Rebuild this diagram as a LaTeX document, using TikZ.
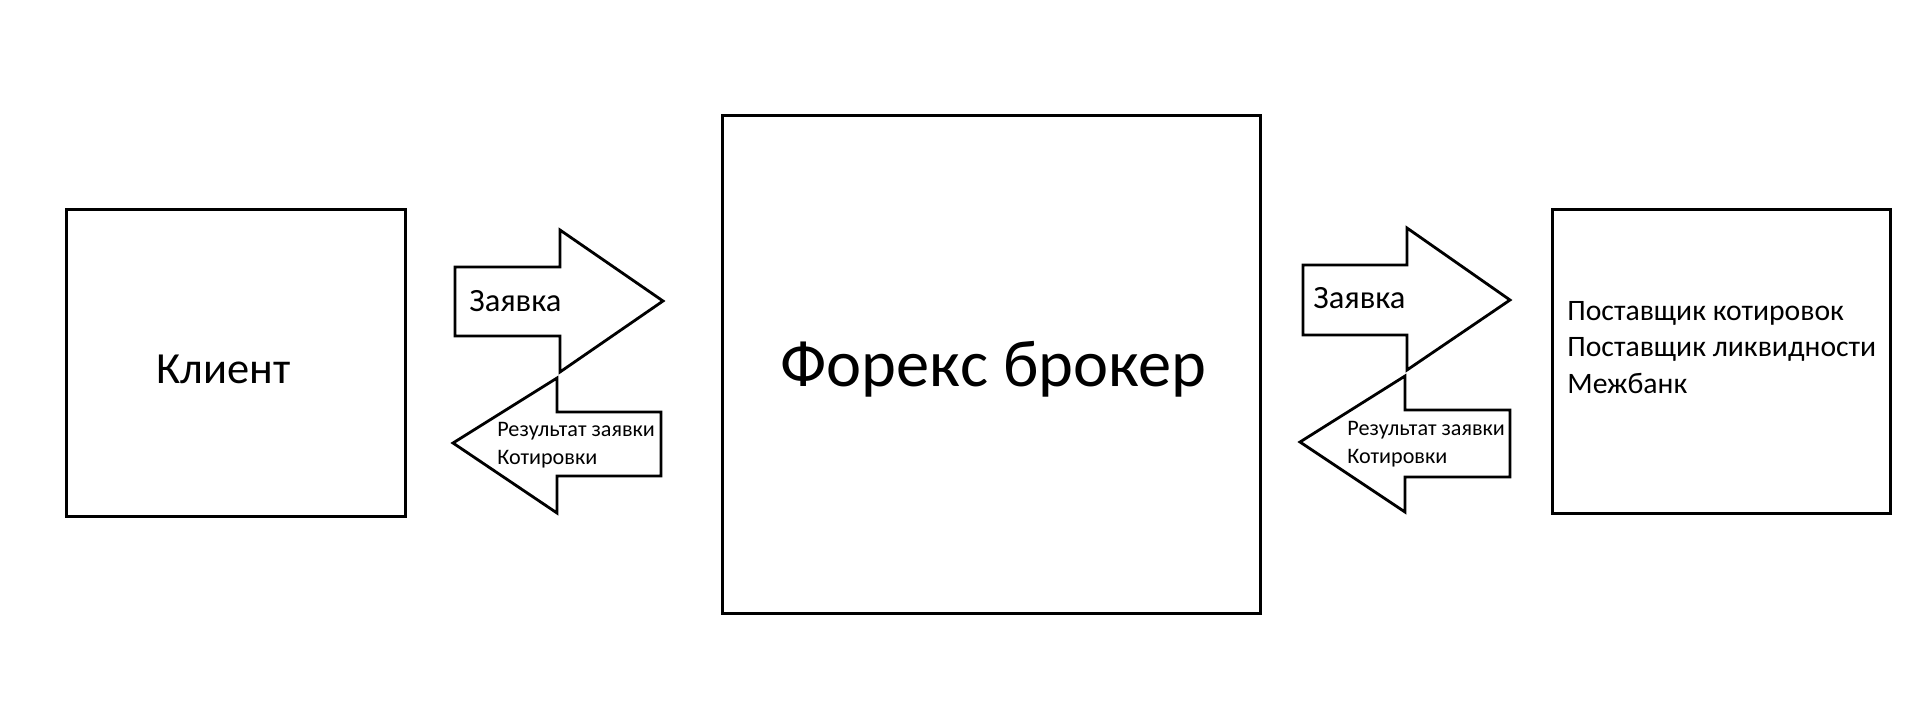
\documentclass[tikz,border=0pt]{standalone}
\usepackage{fontspec}
\setmainfont{Carlito}

\begin{document}
\begin{tikzpicture}[x=0.02cm, y=-0.02cm,
    box/.style={draw=black, line width=1.7pt, inner sep=0pt},
    blockarrow/.style={draw=black, line width=1.6pt, line join=miter},
    lbl/.style={inner sep=0pt, anchor=base west, align=left}]
    \useasboundingbox (0,0) rectangle (1920,727);

    %Boxes
    \node[box, minimum width=6.8cm, minimum height=6.16cm] at (236,363) (client) {};
    \node[box, minimum width=10.78cm, minimum height=9.98cm] at (991.5,364.5) (broker) {};
    \node[box, minimum width=6.78cm, minimum height=6.1cm] at (1721.5,361.5) (provider) {};

    %Box texts
    \node[inner sep=0pt, anchor=base, font=\fontsize{25.3pt}{30pt}\selectfont] at (223.5,383) (clienttext) {Клиент};
    \node[inner sep=0pt, anchor=base, font=\fontsize{37.8pt}{44pt}\selectfont] at (993.5,386) (brokertext) {Форекс брокер};
    % base of a multi-line node is its last line
    \node[lbl, font=\fontsize{16.9pt}{20.5pt}\selectfont] at (1567,393) (providertext)
        {Поставщик котировок\\Поставщик ликвидности\\Межбанк};

    %Arrows
    \draw[blockarrow] (455,267) -- (560,267) -- (560,230) -- (663,301) -- (560,372) -- (560,336) -- (455,336) -- cycle;
    \draw[blockarrow] (661,412) -- (557,412) -- (557,378) -- (453,443) -- (557,513) -- (557,476) -- (661,476) -- cycle;
    \draw[blockarrow] (1303,265) -- (1407,265) -- (1407,228) -- (1510,300) -- (1407,370) -- (1407,335) -- (1303,335) -- cycle;
    \draw[blockarrow] (1510,410) -- (1405,410) -- (1405,376) -- (1300,442) -- (1405,512) -- (1405,477) -- (1510,477) -- cycle;

    %Arrow texts
    \node[lbl, font=\fontsize{18.5pt}{22pt}\selectfont] at (469,311) (orderleft) {Заявка};
    \node[lbl, font=\fontsize{18.5pt}{22pt}\selectfont] at (1313,308) (orderright) {Заявка};
    \node[lbl, font=\fontsize{12.6pt}{15.4pt}\selectfont] at (497,464) (resultleft) {Результат заявки\\Котировки};
    \node[lbl, font=\fontsize{12.6pt}{15.4pt}\selectfont] at (1347,463) (resultright) {Результат заявки\\Котировки};

\end{tikzpicture}
\end{document}
